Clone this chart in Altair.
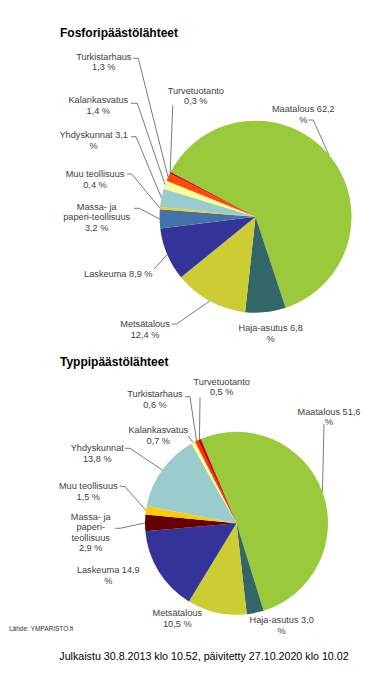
import math
import altair as alt
import pandas as pd

# ---------------- data ----------------
categories = ["Maatalous", "Haja-asutus", "Metsätalous", "Laskeuma",
              "Massa- ja paperiteollisuus", "Muu teollisuus", "Yhdyskunnat",
              "Kalankasvatus", "Turkistarhaus", "Turvetuotanto"]
fosfori = [62.2, 6.8, 12.4, 8.9, 3.2, 0.4, 3.1, 1.4, 1.3, 0.3]
typpi = [51.6, 3.0, 10.5, 14.9, 2.9, 1.5, 13.8, 0.7, 0.6, 0.5]

names_fosfori = ["Maatalous", "Haja-asutus", "Metsätalous", "Laskeuma",
                 "Massa- ja\npaperi-teollisuus", "Muu teollisuus", "Yhdyskunnat",
                 "Kalankasvatus", "Turkistarhaus", "Turvetuotanto"]
names_typpi = ["Maatalous", "Haja-asutus", "Metsätalous", "Laskeuma",
               "Massa- ja\npaperi-\nteollisuus", "Muu teollisuus", "Yhdyskunnat",
               "Kalankasvatus", "Turkistarhaus", "Turvetuotanto"]
modes_fosfori = ["inline", "inline", "below", "single", "below", "below",
                 "inline", "below", "below", "below"]
modes_typpi = ["inline", "inline", "below", "inline", "below", "below",
               "below", "below", "below", "below"]

colors_fosfori = ["#9ACA3C", "#336666", "#CCCC33", "#333399", "#4472A8",
                  "#FFCC00", "#99CCCC", "#FFFF99", "#FF4A0A", "#C00000"]
colors_typpi = ["#9ACA3C", "#336666", "#CCCC33", "#333399", "#660000",
                "#FFCC00", "#99CCCC", "#FFFF99", "#FF3300", "#C00000"]

title_fosfori = "Fosforipäästölähteet"
title_typpi = "Typpipäästölähteet"
source_text = "Lähde: YMPARISTO.fi"
published_text = "Julkaistu 30.8.2013 klo 10.52, päivitetty 27.10.2020 klo 10.02"

# ---------------- layout (page pixel coordinates) ----------------
W, H = 362, 657
pies = [
    dict(cx=255.5, cy=216.7, r=96, start=297.8),
    dict(cx=236.5, cy=523.3, r=91.5, start=337.0),
]
label_xy_fosfori = [(303.3, 109.3), (270.7, 328.3), (145, 324), (118.3, 274.3),
                    (96.7, 206.7), (95, 174), (93.7, 135), (98.3, 100),
                    (103.8, 56.7), (195.8, 90.7)]
label_xy_typpi = [(329, 411.7), (281.7, 620), (177.3, 613.3), (108.3, 570),
                  (90.7, 516.7), (88.3, 486), (97.3, 448.3), (158.3, 430),
                  (155, 394), (221.7, 381.7)]
# leader line start and elbow (sx, sy, ex, ey); None = no leader
leader_fosfori = [(308.3, 120, 313.3, 120), None, (171.7, 324, 176.7, 324),
                  (154, 269, 155, 268), (134, 208.3, 139.3, 208.3),
                  (127, 174, 131.7, 174), (131, 136.7, 136, 136.7),
                  (131, 103.3, 137.3, 103.3), (133.3, 58.3, 138.3, 58.3),
                  (172.7, 105.5, 172.7, 107)]
leader_typpi = [(324, 424, 324, 425), None, None, None,
                (115, 528.3, 120, 528.3), (120, 486, 125, 486.7),
                (125, 448.3, 130, 448.3), (188, 436, 189, 437),
                (185, 396.7, 190, 396.7), (200, 397.5, 200, 399)]
LH = 10.5
LABEL_SIZE = 9.2
LABEL_COLOR = "#404040"


def fmt(v):
    return f"{v:.1f}".replace(".", ",")


def label_lines(name, v, mode):
    parts = name.split("\n")
    if mode == "inline":
        return parts[:-1] + [parts[-1] + " " + fmt(v), "%"]
    if mode == "single":
        return parts[:-1] + [parts[-1] + " " + fmt(v) + " %"]
    return parts + [fmt(v) + " %"]


xs = alt.Scale(domain=[8, 8 + W], nice=False, zero=False)
ys = alt.Scale(domain=[8, 8 + H], nice=False, zero=False, reverse=True)

layers = []
text_rows = []
line_rows = []
sets = [
    (fosfori, names_fosfori, modes_fosfori, colors_fosfori, label_xy_fosfori, leader_fosfori),
    (typpi, names_typpi, modes_typpi, colors_typpi, label_xy_typpi, leader_typpi),
]
for p, (vals, names, modes, cols, lxy, lead) in enumerate(sets):
    pie = pies[p]
    total = sum(vals)
    df = pd.DataFrame({
        "cat": categories, "value": vals, "idx": list(range(len(vals))),
        "color": cols, "cx": pie["cx"], "cy": pie["cy"],
    })
    a0 = math.radians(pie["start"])
    arc = alt.Chart(df).mark_arc(outerRadius=pie["r"], stroke=None).encode(
        x=alt.X("cx:Q", scale=xs, axis=None),
        y=alt.Y("cy:Q", scale=ys, axis=None),
        theta=alt.Theta("value:Q", stack=True,
                        scale=alt.Scale(domain=[0, total], range=[a0, a0 + 2 * math.pi])),
        order=alt.Order("idx:Q", sort="ascending"),
        color=alt.Color("color:N", scale=None, legend=None),
    )
    layers.append(arc)
    cum = 0.0
    for i, v in enumerate(vals):
        mid = a0 + (cum + v / 2) / total * 2 * math.pi
        cum += v
        lines = label_lines(names[i], v, modes[i])
        lx, ly = lxy[i]
        for k, t in enumerate(lines):
            text_rows.append(dict(x=lx, y=ly + k * LH, t=t))
        if lead is not None and lead[i] is not None:
            sx, sy, ex, ey = lead[i]
            px = pie["cx"] + pie["r"] * math.sin(mid)
            py = pie["cy"] - pie["r"] * math.cos(mid)
            key = f"{p}-{i}"
            for j, (qx, qy) in enumerate([(sx, sy), (ex, ey), (px, py)]):
                line_rows.append(dict(key=key, j=j, x=qx, y=qy))

lines_layer = alt.Chart(pd.DataFrame(line_rows)).mark_line(
    color="#595959", strokeWidth=0.8).encode(
    x=alt.X("x:Q", scale=xs, axis=None),
    y=alt.Y("y:Q", scale=ys, axis=None),
    detail="key:N",
    order="j:Q",
)
labels_layer = alt.Chart(pd.DataFrame(text_rows)).mark_text(
    font="Liberation Sans", fontSize=LABEL_SIZE, color=LABEL_COLOR,
    align="center", baseline="middle").encode(
    x=alt.X("x:Q", scale=xs, axis=None),
    y=alt.Y("y:Q", scale=ys, axis=None),
    text="t:N",
)
titles_layer = alt.Chart(pd.DataFrame({
    "x": [60, 60], "y": [36.7, 365.5], "t": [title_fosfori, title_typpi]})).mark_text(
    font="Liberation Sans", fontSize=12, fontWeight="bold", color="#000000",
    align="left", baseline="alphabetic").encode(
    x=alt.X("x:Q", scale=xs, axis=None),
    y=alt.Y("y:Q", scale=ys, axis=None),
    text="t:N",
)
source_layer = alt.Chart(pd.DataFrame({"x": [9], "y": [629.3], "t": [source_text]})).mark_text(
    font="Liberation Sans", fontSize=6.5, color="#333333",
    align="left", baseline="middle").encode(
    x=alt.X("x:Q", scale=xs, axis=None),
    y=alt.Y("y:Q", scale=ys, axis=None),
    text="t:N",
)
pub_layer = alt.Chart(pd.DataFrame({"x": [59.3], "y": [657.3], "t": [published_text]})).mark_text(
    font="Liberation Sans", fontSize=10.7, color="#000000",
    align="left", baseline="middle").encode(
    x=alt.X("x:Q", scale=xs, axis=None),
    y=alt.Y("y:Q", scale=ys, axis=None),
    text="t:N",
)

chart = alt.layer(*layers, lines_layer, labels_layer, titles_layer, source_layer, pub_layer).resolve_scale(
    theta="independent"
).properties(
    width=W, height=H, padding=0, autosize=alt.AutoSizeParams(type="none"),
    background="#ffffff",
).configure_view(stroke=None)

chart.save("out.html", embed_options={"renderer": "svg", "actions": False})
